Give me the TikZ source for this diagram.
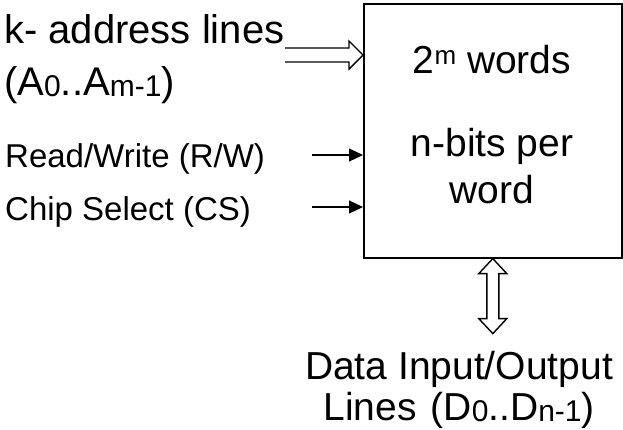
\documentclass[tikz,border=0pt]{standalone}
\usepackage{fontspec}
\setmainfont{Liberation Sans}
\usetikzlibrary{arrows.meta,calc}
% small lowered index (A0, Dn-1) and raised exponent (2^m)
\newcommand{\lowidx}[1]{\raisebox{-1.5pt}{\fontsize{30}{30}\selectfont #1}}
\newcommand{\highidx}[1]{\raisebox{9pt}{\fontsize{26}{26}\selectfont #1}}
\begin{document}
\begin{tikzpicture}[x=1pt,y=-1pt,
  bigtxt/.style={inner sep=0pt,font=\fontsize{40}{45}\selectfont},
  boxtxt/.style={inner sep=0pt,font=\fontsize{39}{47}\selectfont,anchor=base},
  smalltxt/.style={inner sep=0pt,font=\fontsize{33}{38}\selectfont,anchor=base west},
  membox/.style={draw,line width=1.6pt,inner sep=0pt,minimum width=258pt,minimum height=254pt},
  hollow/.style={draw,line width=1.4pt,line join=miter},
  sig/.style={line width=1.2pt,-{Triangle[length=14pt,width=13pt]}}]
\useasboundingbox (0,0) rectangle (623,429);

% memory block
\node[membox,anchor=north west] (mem) at (363,3) {};
\node[boxtxt] (words) at (492,73) {2\highidx{m} words};
\node[boxtxt] (bits) at (492,156) {n-bits per};
\node[boxtxt] (word) at (492,203) {word};

% left-hand labels
\node[bigtxt,anchor=base west] (addr) at (4,43) {k- address lines};
\node[bigtxt,anchor=base west] (addrsig) at (4,95) {(A\lowidx{0}..A\lowidx{m-1})};
\node[smalltxt] (rw) at (5,167) {Read/Write (R/W)};
\node[smalltxt] (cs) at (5,220) {Chip Select (CS)};

% data bus label
\node[boxtxt] (data) at (459,379) {Data Input/Output};
\node[boxtxt] (lines) at (459,420) {Lines\hspace{14pt}(D\lowidx{0}..D\lowidx{n-1})};

% address bus: open hollow arrow into the block
\coordinate (addrtail) at (285,55);
\coordinate (addrtip) at (addrtail -| mem.west);
\draw[hollow] ($(addrtail)+(0,-7)$) -- ($(addrtip)+(-14,-7)$) -- ($(addrtip)+(-14,-14)$)
  -- (addrtip) -- ($(addrtip)+(-14,14)$) -- ($(addrtip)+(-14,7)$) -- ($(addrtail)+(0,7)$);

% control inputs
\coordinate (rwtail) at (312,155);
\coordinate (cstail) at (312,207);
\draw[sig] (rwtail) -- (rwtail -| mem.west);
\draw[sig] (cstail) -- (cstail -| mem.west);

% bidirectional data bus
\coordinate (dtop) at (mem.south);
\coordinate (dbot) at ($(mem.south)+(0,75)$);
\draw[hollow] (dtop) -- ($(dtop)+(14,15)$) -- ($(dtop)+(6,15)$) -- ($(dbot)+(6,-15)$)
  -- ($(dbot)+(14,-15)$) -- (dbot) -- ($(dbot)+(-14,-15)$) -- ($(dbot)+(-6,-15)$)
  -- ($(dtop)+(-6,15)$) -- ($(dtop)+(-14,15)$) -- cycle;
\end{tikzpicture}
\end{document}
